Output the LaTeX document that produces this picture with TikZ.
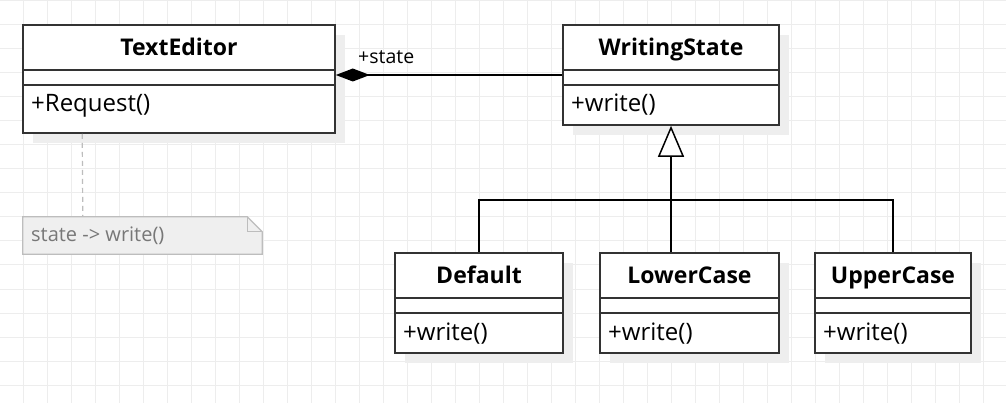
\documentclass[tikz,border=0pt]{standalone}
\usepackage{fontspec}
\setmainfont{Open Sans}
\usetikzlibrary{arrows.meta,calc}
\definecolor{gridc}{HTML}{EDEDED}
\definecolor{shadowc}{HTML}{EEEEEE}
\definecolor{boxc}{HTML}{333333}
\definecolor{notefill}{HTML}{EFEFEF}
\definecolor{noteline}{HTML}{BDBDBD}
\definecolor{notetext}{HTML}{777777}
\tikzset{
  clsbox/.style={draw=boxc, line width=1.6pt, fill=white, inner sep=0pt},
  clsdiv/.style={draw=boxc, line width=1.6pt},
  clstitle/.style={inner sep=0pt, font=\fontsize{23}{27}\selectfont\bfseries},
  clsmeth/.style={inner sep=0pt, font=\fontsize{24}{28}\selectfont},
  conn/.style={draw=black, line width=1.5pt},
  rolelabel/.style={inner sep=0pt, font=\fontsize{19.5}{23}\selectfont},
  notebox/.style={inner sep=0pt, draw=none},
  noteshape/.style={draw=noteline, fill=notefill, line width=1.2pt},
  notelabel/.style={inner sep=0pt, text=notetext, font=\fontsize{20}{24}\selectfont},
}
% #1 name, #2 left, #3 top, #4 right, #5 bottom, #6 title, #7 method
\newcommand{\umlcls}[7]{%
  \fill[shadowc] ({#2+10},{#3+10}) rectangle ({#4+10},{#5+10});
  \node[clsbox, minimum width={#4-#2}, minimum height={#5-#3}] (#1) at ({(#2+#4)/2},{(#3+#5)/2}) {};
  \draw[clsdiv] (#2,{#3+45}) -- (#4,{#3+45});
  \draw[clsdiv] (#2,{#3+60}) -- (#4,{#3+60});
  \node[clstitle, anchor=base] (#1-t) at ({(#2+#4)/2},{#3+30.5}) {#6};
  \node[clsmeth, anchor=base west] (#1-m) at ({#2+8},{#3+87}) {#7};
}
\begin{document}
\begin{tikzpicture}[x=1pt,y=-1pt]
\useasboundingbox (0,0) rectangle (1006,403);
\fill[white] (0,0) rectangle (1006,403);
\foreach \x in {23.5,47.5,...,1006} \draw[gridc, line width=1pt] (\x,0) -- (\x,403);
\foreach \y in {1,25,...,403} \draw[gridc, line width=1pt] (0,\y) -- (1006,\y);

\umlcls{te}{23}{25}{335}{133}{TextEditor}{+Request()}
\umlcls{ws}{563}{25}{779}{125}{WritingState}{+write()}
\umlcls{def}{395}{253}{563}{353}{Default}{+write()}
\umlcls{lc}{600}{253}{779}{353}{LowerCase}{+write()}
\umlcls{uc}{815}{253}{971}{353}{UpperCase}{+write()}

% composition
\draw[conn, -{Diamond[length=34pt,width=13pt,fill=black]}] (ws.west) -- (te.east |- ws.west);
\node[rolelabel, anchor=base west] (role) at (358,64) {+state};

% generalization
\coordinate (jn) at (ws.south |- 0,200);
\draw[conn] (def.north) |- (jn) -| (uc.north);
\draw[conn, -{Triangle[length=31pt,width=26pt,fill=white]}] (lc.north -| ws.south) -- (ws.south);

% note
\node[notebox, minimum width=239pt, minimum height=37pt] (note) at (142.5,235.5) {};
\draw[noteline, line width=1.2pt, dash pattern=on 5pt off 4pt] ($(te.south west)+(60,0)$) -- ($(note.north west)+(60,0)$);
\draw[noteshape] (note.north west) -- ($(note.north east)+(-15,0)$) -- ($(note.north east)+(0,15)$) -- (note.south east) -- (note.south west) -- cycle;
\draw[draw=noteline, line width=1.2pt] ($(note.north east)+(-15,0)$) -- ($(note.north east)+(-15,15)$) -- ($(note.north east)+(0,15)$);
\node[notelabel, anchor=base west] (notetxt) at (31,241.7) {state -> write()};
\end{tikzpicture}
\end{document}
